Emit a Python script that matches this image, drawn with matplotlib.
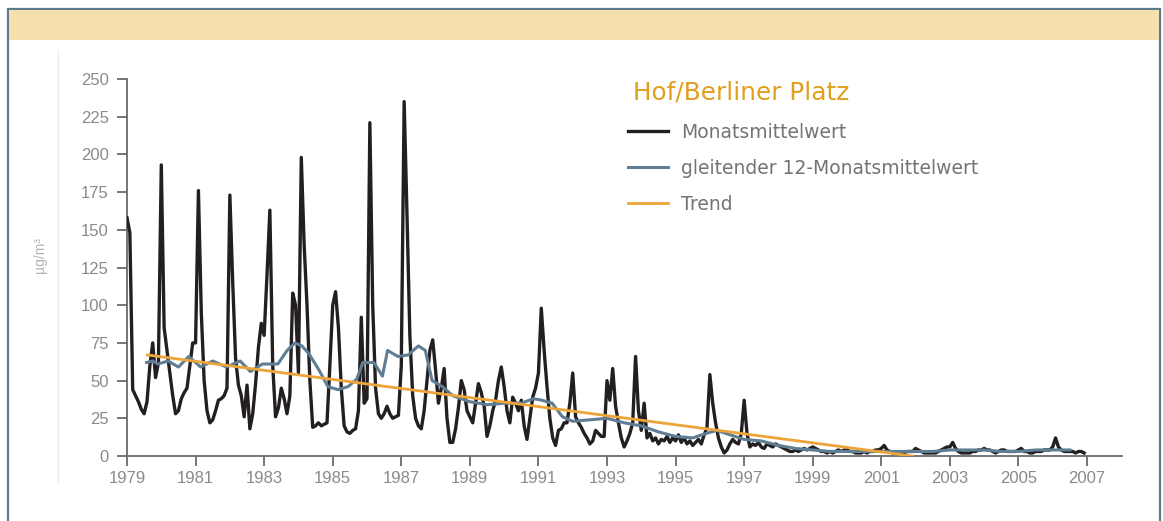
import numpy as np
import matplotlib
matplotlib.use("Agg")
import matplotlib.pyplot as plt
from matplotlib.patches import Rectangle
from matplotlib.lines import Line2D

# ---------------- data ----------------
start_year = 1979
monthly_values = [
    158, 148, 44, 40, 36, 31, 28, 36, 60, 75, 52, 62,      # 1979
    193, 85, 70, 55, 40, 28, 30, 38, 42, 45, 60, 75,       # 1980
    75, 176, 95, 50, 30, 22, 24, 30, 37, 38, 40, 45,       # 1981
    173, 115, 65, 47, 40, 26, 47, 18, 28, 48, 72, 88,      # 1982
    80, 120, 163, 60, 26, 32, 45, 38, 28, 40, 108, 100,    # 1983
    55, 198, 140, 100, 50, 19, 20, 22, 20, 21, 22, 60,     # 1984
    100, 109, 85, 45, 20, 16, 15, 17, 18, 30, 92, 35,      # 1985
    38, 221, 100, 45, 28, 25, 28, 33, 28, 25, 26, 27,      # 1986
    60, 235, 160, 80, 40, 25, 20, 18, 30, 50, 70, 77,      # 1987
    57, 35, 45, 58, 25, 9, 9, 18, 32, 50, 44, 30,          # 1988
    26, 22, 35, 48, 42, 33, 13, 20, 30, 37, 50, 59,        # 1989
    46, 30, 22, 39, 35, 30, 37, 20, 11, 25, 39, 45,        # 1990
    55, 98, 70, 46, 25, 12, 7, 17, 18, 22, 22, 35,         # 1991
    55, 26, 22, 19, 15, 12, 8, 10, 17, 15, 13, 13,         # 1992
    50, 37, 58, 33, 22, 12, 6, 10, 15, 22, 66, 30,         # 1993
    17, 35, 12, 15, 10, 12, 8, 11, 10, 13, 9, 12,          # 1994
    10, 14, 9, 12, 8, 10, 7, 9, 11, 8, 14, 19,             # 1995
    54, 35, 22, 12, 6, 2, 4, 8, 11, 9, 8, 15,              # 1996
    37, 15, 6, 8, 7, 9, 6, 5, 8, 7, 6, 8,                  # 1997
    7, 6, 5, 4, 3, 3, 4, 3, 4, 5, 4, 5,                    # 1998
    6, 5, 4, 3, 3, 2, 3, 2, 3, 4, 3, 4,                    # 1999
    4, 3, 3, 2, 2, 2, 3, 2, 3, 3, 4, 4,                    # 2000
    5, 7, 4, 3, 2, 2, 2, 2, 2, 3, 3, 3,                    # 2001
    5, 4, 3, 2, 2, 2, 2, 2, 3, 4, 5, 6,                    # 2002
    6, 9, 5, 3, 2, 2, 2, 2, 3, 3, 4, 4,                    # 2003
    5, 4, 4, 3, 2, 3, 4, 4, 3, 3, 3, 3,                    # 2004
    4, 5, 3, 3, 2, 2, 3, 3, 3, 4, 4, 4,                    # 2005
    6, 12, 6, 4, 3, 3, 3, 3, 2, 3, 3, 2,                   # 2006
]

ma_years = [1979.57, 1979.75, 1979.9, 1980.2, 1980.5, 1980.8, 1981.15, 1981.5,
            1981.9, 1982.3, 1982.6, 1982.95, 1983.4, 1983.67, 1983.9, 1984.1,
            1984.3, 1984.6, 1984.86, 1985.15, 1985.45, 1985.7, 1985.88, 1986.2,
            1986.45, 1986.6, 1986.9, 1987.2, 1987.5, 1987.7, 1987.9, 1988.2,
            1988.5, 1989.0, 1989.5, 1990.0, 1990.5, 1990.85, 1991.1, 1991.4,
            1991.7, 1992.0, 1992.5, 1993.0, 1993.5, 1994.0, 1994.5, 1995.0,
            1995.5, 1995.9, 1996.2, 1996.6, 1997.0, 1997.5, 1998.0, 1998.5,
            1999.0, 1999.5, 2000.0, 2000.5, 2001.0, 2001.5, 2002.0, 2002.5,
            2003.0, 2003.5, 2004.0, 2004.5, 2005.0, 2005.5, 2006.0, 2006.5]
ma_values = [62, 63, 61, 63, 59, 66, 59, 63,
             59, 63, 56, 61, 61, 70, 75, 73,
             68, 57, 46, 44, 46, 51, 62, 62,
             53, 70, 66, 67, 73, 70, 50, 46,
             40, 36, 34, 35, 35, 38, 37, 35,
             26, 23, 24, 25, 22, 20, 16, 13,
             12, 15, 17, 14, 11, 10, 7, 5,
             4, 3, 3, 3, 3, 3, 3, 3,
             4, 4, 4, 3, 3, 4, 4, 4]

trend_years = [1979.6, 2001.9]
trend_values = [67, 0]

xtick_years = list(range(1979, 2008, 2))
ytick_values = list(range(0, 251, 25))

title_text = "Hof/Berliner Platz"
legend_labels = ["Monatsmittelwert", "gleitender 12-Monatsmittelwert", "Trend"]
unit_label = "µg/m³"

# ---------------- styling ----------------
W, H = 1163, 521
FONT = ["Liberation Sans", "DejaVu Sans"]
WIDE = ["DejaVu Sans"]
plt.rcParams["font.family"] = FONT

c_black = "#231f20"
c_blue = "#5f7d93"
c_orange = "#eda53a"
c_title = "#e0a01e"
c_tick = "#8a8a8a"
c_spine = "#6a6a6a"

fig = plt.figure(figsize=(W / 100, H / 100), dpi=100)
fig.patch.set_facecolor("white")

# outer frame + banner
fig.add_artist(Rectangle((8 / W, -0.05), (1160 - 8) / W, 1 - 9 / H + 0.05,
                         transform=fig.transFigure, fill=False,
                         edgecolor="#5d7990", linewidth=1.6, zorder=0))
fig.add_artist(Rectangle((9 / W, 1 - 40 / H), (1159 - 9) / W, 30 / H,
                         transform=fig.transFigure, facecolor="#f5dfaa",
                         edgecolor="none", zorder=0))
fig.add_artist(Line2D([58 / W, 58 / W], [1 - 50 / H, 1 - 482 / H],
                      transform=fig.transFigure, color="#ececec", lw=1.0))

left, right = 127 / W, 1122 / W
bottom, top = 1 - 456 / H, 1 - 79 / H
ax = fig.add_axes([left, bottom, right - left, top - bottom])
ax.set_facecolor("none")

months = start_year + np.arange(len(monthly_values)) / 12.0
ax.plot(months, monthly_values, color=c_black, lw=2.4, zorder=3,
        solid_joinstyle="round", label=legend_labels[0])
ax.plot(ma_years, ma_values, color=c_blue, lw=2.2, zorder=4,
        label=legend_labels[1])
ax.plot(trend_years, trend_values, color=c_orange, lw=2.0, zorder=5,
        label=legend_labels[2])

ax.set_xlim(1979, 1979 + (1122 - 127) / (960 / 28))
ax.set_ylim(0, 250)
ax.set_xticks(xtick_years)
ax.set_xticklabels([str(y) for y in xtick_years])
ax.set_yticks(ytick_values)
ax.set_yticklabels([str(v) for v in ytick_values])

for s in ["top", "right"]:
    ax.spines[s].set_visible(False)
for s in ["left", "bottom"]:
    ax.spines[s].set_color(c_spine)
    ax.spines[s].set_linewidth(1.3)

ax.tick_params(axis="both", direction="out", length=7, width=1.3,
               color=c_spine, labelcolor=c_tick, labelsize=12)
ax.tick_params(axis="y", pad=6)
ax.tick_params(axis="x", pad=4)

# title & legend
fig.text(633 / W, 1 - 93 / H, title_text, color=c_title, fontsize=17.8,
         ha="left", va="center", family=WIDE)
leg = ax.legend(loc="upper left", bbox_to_anchor=(628 / W, 1 - 123 / H),
                bbox_transform=fig.transFigure, frameon=False,
                prop={"family": WIDE, "size": 13.5},
                handlelength=2.15, handletextpad=0.7, labelspacing=0.9,
                borderpad=0, borderaxespad=0)
for t in leg.get_texts():
    t.set_color("#747474")

fig.text(40 / W, 1 - 255 / H, unit_label, rotation=90, color="#b5b5b5",
         fontsize=10, ha="center", va="center")

fig.savefig("out.png", dpi=100, facecolor="white")
